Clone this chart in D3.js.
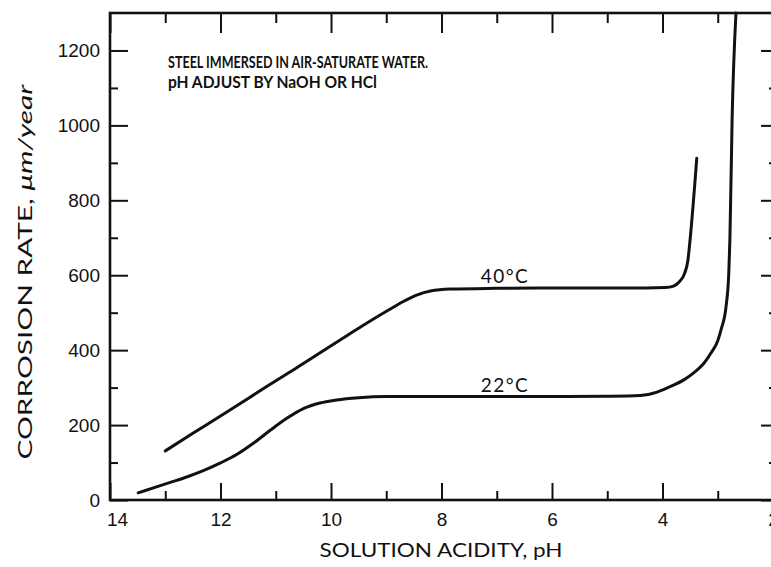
<!DOCTYPE html>
<html>
<head>
<meta charset="utf-8">
<script src="https://cdn.jsdelivr.net/npm/d3@7"></script>
<style>
  body { margin: 0; background: #fff; }
  svg { display: block; font-family: Lato, 'DejaVu Sans', sans-serif; }
  .domain { display: none; }
</style>
</head>
<body>
<svg id="chart" width="771" height="567"></svg>
<script>
// pH readings and corrosion rates (um/year)
const ph40 = [13.0, 12.5, 12.0, 11.5, 11.1, 10.6, 10.19, 9.7, 9.29, 8.95, 8.69, 8.45, 8.2, 7.84, 7.0, 6.0, 5.0, 4.3, 3.95, 3.8, 3.7, 3.6, 3.54, 3.5, 3.38]
const rate40 = [131, 178, 224, 271, 309, 355, 394, 440, 478, 508, 530, 547, 558, 563, 565, 566, 566, 566, 567, 571, 582, 605, 640, 696, 912]

const ph22 = [13.49, 13.2, 12.91, 12.6, 12.3, 12.0, 11.7, 11.4, 11.1, 10.8, 10.5, 10.2, 9.9, 9.5, 9.0, 8.0, 7.0, 6.0, 5.0, 4.4, 4.1, 3.9, 3.6, 3.43, 3.25, 3.12, 3.0, 2.94, 2.85, 2.8, 2.78, 2.74, 2.67]
const rate22 = [19, 33, 47, 62, 79, 99, 122, 152, 186, 218, 244, 259, 267, 273, 276, 276, 276, 276, 277, 279, 288, 300, 322, 340, 365, 393, 425, 455, 516, 607, 696, 1017, 1300]

const xMajor = [14, 12, 10, 8, 6, 4, 2]
const xMinor = [13, 11, 9, 7, 5, 3]
const yMajor = [0, 200, 400, 600, 800, 1000, 1200]
const yMinor = [100, 300, 500, 700, 900, 1100]

const noteLines = ['STEEL IMMERSED IN AIR-SATURATE WATER.', 'pH ADJUST BY NaOH OR HCl']

const svg = d3.select('#chart')

const plotLeft = 110
const plotRight = 773
const plotTop = 13
const plotBottom = 500

const x = d3.scaleLinear().domain([14, 2]).range([plotLeft, plotRight])
const y = d3.scaleLinear().domain([0, 1300]).range([plotBottom, plotTop])

// bottom axis, ticks pointing up
svg.append('g')
    .attr('transform', `translate(0,${plotBottom})`)
    .call(d3.axisBottom(x).tickValues(xMajor).tickSize(-17).tickPadding(13).tickFormat(d3.format('d')))
    .call(g => g.selectAll('text').style('font-size', '19px').attr('fill', '#111'))
    .call(g => g.selectAll('text').filter(d => d === 14).attr('dx', 7))
svg.append('g')
    .attr('transform', `translate(0,${plotBottom})`)
    .call(d3.axisBottom(x).tickValues(xMinor).tickSize(-9).tickFormat(''))

// top axis, ticks pointing down
svg.append('g')
    .attr('transform', `translate(0,${plotTop})`)
    .call(d3.axisTop(x).tickValues(xMajor).tickSize(-20).tickFormat(''))
svg.append('g')
    .attr('transform', `translate(0,${plotTop})`)
    .call(d3.axisTop(x).tickValues(xMinor).tickSize(-10).tickFormat(''))

// left axis
svg.append('g')
    .attr('transform', `translate(${plotLeft},0)`)
    .call(d3.axisLeft(y).tickValues(yMajor).tickSize(-18).tickPadding(10).tickFormat(d3.format('d')))
    .call(g => g.selectAll('text').style('font-size', '19px').attr('fill', '#111'))
svg.append('g')
    .attr('transform', `translate(${plotLeft},0)`)
    .call(d3.axisLeft(y).tickValues(yMinor).tickSize(-8).tickFormat(''))

// right axis (mostly cut by the page edge)
svg.append('g')
    .attr('transform', `translate(${plotRight},0)`)
    .call(d3.axisRight(y).tickValues(yMajor).tickSize(-12).tickFormat(''))
svg.append('g')
    .attr('transform', `translate(${plotRight},0)`)
    .call(d3.axisRight(y).tickValues(yMinor).tickSize(-4).tickFormat(''))

svg.selectAll('.tick line').attr('stroke', '#111').attr('stroke-width', 2)

// frame
svg.append('rect')
    .attr('x', plotLeft)
    .attr('y', plotTop)
    .attr('width', plotRight - plotLeft)
    .attr('height', plotBottom - plotTop)
    .attr('fill', 'none')
    .attr('stroke', '#111')
    .attr('stroke-width', 2.6)

const line = d3.line()
    .x(d => x(d[0]))
    .y(d => y(d[1]))
    .curve(d3.curveMonotoneX)

const series = [
    d3.zip(ph40, rate40),
    d3.zip(ph22, rate22)
]

svg.append('g')
    .selectAll('path')
    .data(series)
    .join('path')
    .attr('d', line)
    .attr('fill', 'none')
    .attr('stroke', '#111')
    .attr('stroke-width', 3)
    .attr('stroke-linecap', 'round')

// curve labels
svg.append('text')
    .attr('x', x(7.29))
    .attr('y', y(578))
    .attr('textLength', 47)
    .style('font-size', '19px')
    .attr('fill', '#111')
    .text('40°C')
svg.append('text')
    .attr('x', x(7.29))
    .attr('y', y(289))
    .attr('textLength', 47)
    .style('font-size', '19px')
    .attr('fill', '#111')
    .text('22°C')

// note
svg.append('g')
    .selectAll('text')
    .data(noteLines)
    .join('text')
    .attr('x', 168)
    .attr('y', (d, i) => 68 + i * 20)
    .attr('textLength', (d, i) => i === 0 ? 260 : 209)
    .attr('lengthAdjust', 'spacingAndGlyphs')
    .style('font-family', "'Liberation Sans Narrow', Lato, sans-serif")
    .style('font-size', '17px')
    .style('font-weight', 'bold')
    .attr('fill', '#111')
    .text(d => d)

// axis titles
svg.append('text')
    .attr('x', 441)
    .attr('y', 557)
    .attr('text-anchor', 'middle')
    .attr('textLength', 243)
    .attr('lengthAdjust', 'spacingAndGlyphs')
    .style('font-size', '19px')
    .attr('fill', '#111')
    .text('SOLUTION ACIDITY, pH')

const yTitle = svg.append('text')
    .attr('transform', 'translate(32,272) rotate(-90)')
    .attr('text-anchor', 'middle')
    .attr('textLength', 375)
    .attr('lengthAdjust', 'spacingAndGlyphs')
    .style('font-size', '19px')
    .attr('fill', '#111')
yTitle.append('tspan').text('CORROSION RATE,  ')
yTitle.append('tspan').style('font-style', 'italic').text('μm/year')
</script>
</body>
</html>
